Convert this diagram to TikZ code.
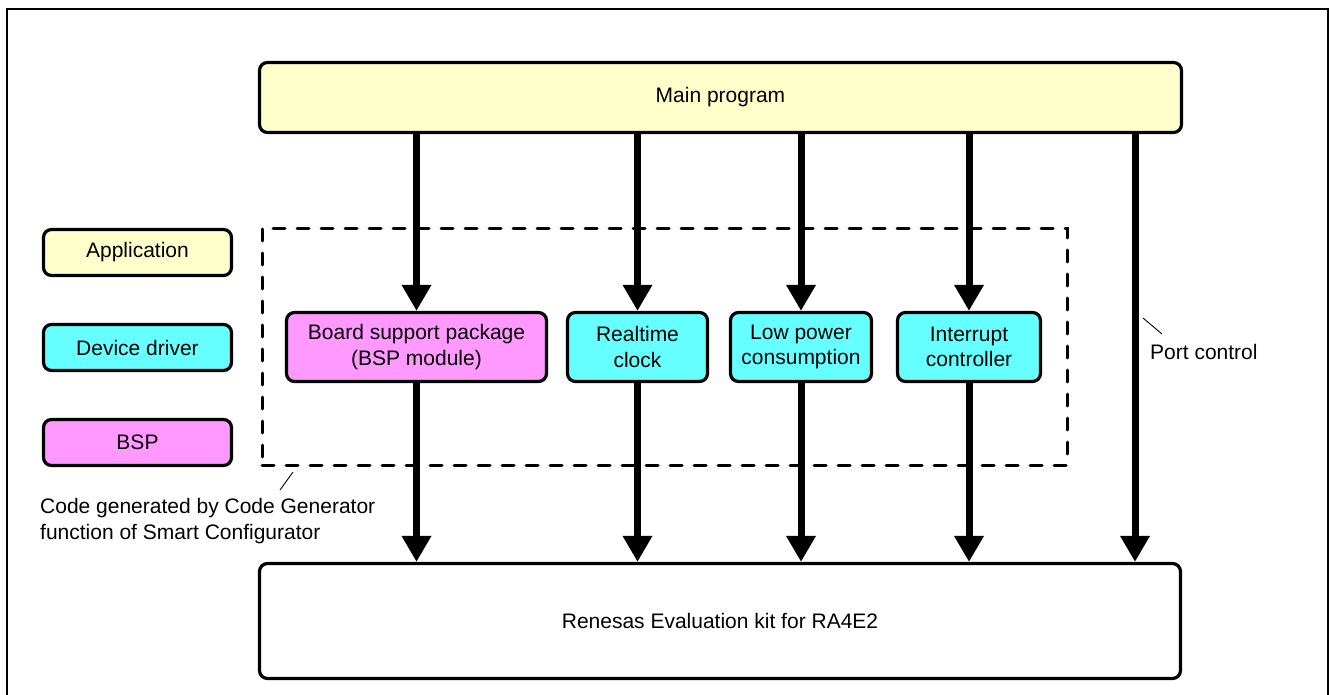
\documentclass[tikz,border=0pt]{standalone}
\usepackage{fontspec}
\setmainfont{Liberation Sans}
\usetikzlibrary{arrows.meta}
\definecolor{appfill}{HTML}{FFFFCC}
\definecolor{drvfill}{HTML}{66FFFF}
\definecolor{bspfill}{HTML}{FF99FF}
\begin{document}
\begin{tikzpicture}[x=1pt,y=-1pt,
  txt/.style={font=\fontsize{21}{25.5}\selectfont},
  box/.style={txt, draw, line width=3.2pt, rounded corners=8pt, inner sep=0pt, align=center},
  app/.style={box, fill=appfill},
  drv/.style={box, fill=drvfill},
  bspbox/.style={box, fill=bspfill},
  flow/.style={line width=7pt, -{Triangle[width=28pt,length=26pt]}},
  note/.style={txt, align=left, inner sep=0pt},
  leader/.style={line width=0.9pt},
  genarea/.style={draw, line width=3pt, line cap=round, dash pattern=on 12pt off 12pt, inner sep=0pt}]
\useasboundingbox (0,0) rectangle (1330,695);
\clip (0,0) rectangle (1330,695);
\fill[white] (0,0) rectangle (1330,695);
% outer frame
\draw[line width=2pt] (7,9) rectangle (1328,720);

% area of generated code
\node[genarea, minimum width=805pt, minimum height=237pt] (gen) at (664.5,346.5) {};

% legend
\node[app, minimum width=188pt, minimum height=46pt] (lapp) at (137.5,252.5) {Application};
\node[drv, minimum width=188pt, minimum height=46pt] (ldrv) at (137.5,347.5) {Device driver};
\node[bspbox, minimum width=188pt, minimum height=46pt] (lbsp) at (137.5,442.5) {BSP};

% main program and target board
\node[app, minimum width=922pt, minimum height=70pt] (main) at (720.5,97.5) {Main program};
\node[box, fill=white, minimum width=921pt, minimum height=115pt] (kit) at (720,621) {Renesas Evaluation kit for RA4E2};

% modules
\node[bspbox, minimum width=260pt, minimum height=69pt] (bsp) at (416.5,347) {Board support package\\(BSP module)};
\node[drv, minimum width=140pt, minimum height=69pt] (rtc) at (637.5,347) {Realtime\\clock};
\node[drv, minimum width=141pt, minimum height=69pt] (lpc) at (801,347) {Low power\\consumption};
\node[drv, minimum width=143pt, minimum height=69pt] (icu) at (969,347) {Interrupt\\controller};

% calls from the main program
\foreach \m in {bsp,rtc,lpc,icu}{
  \draw[flow] (main.south -| \m.north) -- (\m.north);
  \draw[flow] (\m.south) -- (\m.south |- kit.north);
}
\coordinate (port) at (1135,0);
\draw[flow] (main.south -| port) -- (kit.north -| port);

% labels
\coordinate (pa) at (1143,318);
\coordinate (pb) at (1162,334);
\draw[leader] (pa) -- (pb);
\node[note, anchor=base west] (portlbl) at (1150,359) {Port control};

\coordinate (ga) at (293,472);
\coordinate (gb) at (280,490);
\draw[leader] (ga) -- (gb);
\node[note, anchor=base west] (genlbl) at (40,539) {Code generated by Code Generator\\function of Smart Configurator};
\end{tikzpicture}
\end{document}
